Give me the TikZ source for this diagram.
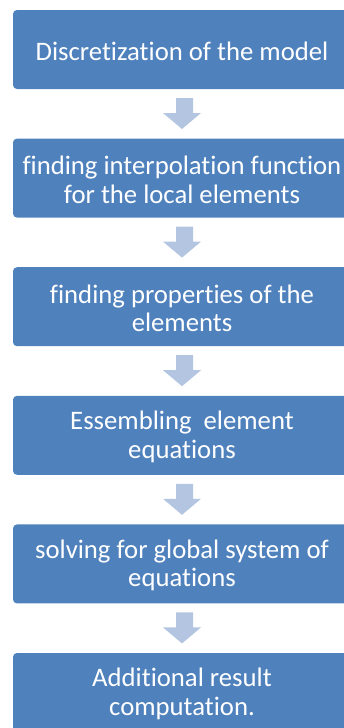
\documentclass[tikz,border=0pt]{standalone}
\usepackage{fontspec}
\setmainfont{Carlito}[Ligatures=NoCommon]
\definecolor{stepblue}{HTML}{4F81BD}
\definecolor{arrowblue}{HTML}{B3C5E0}
\begin{document}
\begin{tikzpicture}[x=1pt,y=-1pt,
  stepbox/.style={fill=stepblue, rounded corners=4pt},
  steptext/.style={text=white, font=\fontsize{26.7}{28.5}\selectfont,
    align=center, inner sep=0pt},
  downarrow/.style={fill=arrowblue}]
\useasboundingbox (0,0) rectangle (344,728);
\begin{scope}
\clip (0,0) rectangle (344,728);
% boxes: left 13, width 338, height 79, pitch 128.6
\foreach \i/\t in {1/{Discretization of the model},
                   2/{finding interpolation function\\for the local elements},
                   3/{finding properties of the\\elements},
                   4/{Essembling\ \ element\\equations},
                   5/{solving for global system of\\equations},
                   6/{Additional result\\computation.}}{
  \pgfmathsetmacro{\top}{10+(\i-1)*128.6}
  \fill[stepbox] (13,\top) rectangle (351,\top+79);
  \node[steptext] (b\i) at (182,\top+41) {\t};
}
\end{scope}
% block arrows between boxes
\foreach \i in {1,...,5}{
  \pgfmathsetmacro{\ay}{98+(\i-1)*128.6}
  \fill[downarrow] (176,\ay) -- (193,\ay) -- (193,\ay+15) -- (201,\ay+15)
     -- (182,\ay+31) -- (163,\ay+15) -- (176,\ay+15) -- cycle;
}
\end{tikzpicture}
\end{document}
